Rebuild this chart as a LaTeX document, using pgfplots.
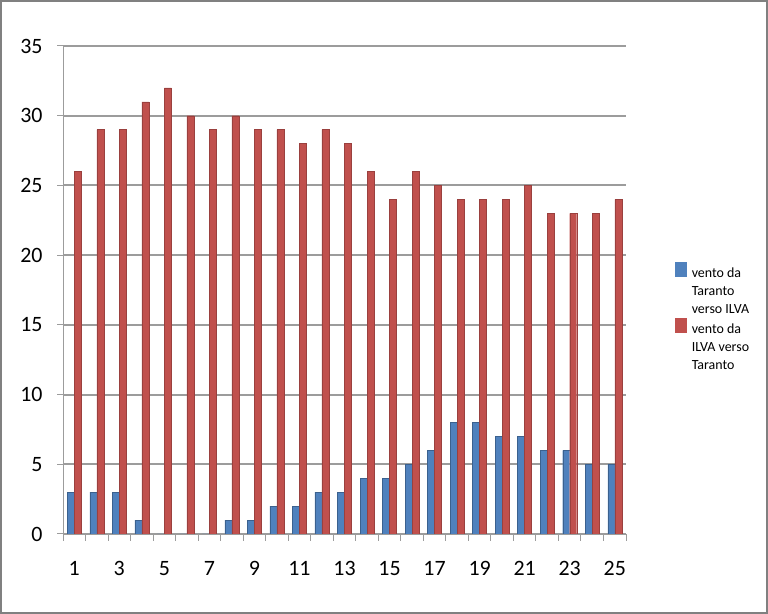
\documentclass[border=0pt]{standalone}
\usepackage{fontspec}
\setmainfont{Carlito}
\usepackage{pgfplots}
\usepackage{pgfplotstable}
\pgfplotsset{compat=1.18}
\definecolor{xlblue}{HTML}{4F81BD}
\definecolor{xlred}{HTML}{C0504D}
\definecolor{gridgray}{HTML}{9C9C9C}
\pgfplotstableread{
x blue red
1 3 26
2 3 29
3 3 29
4 1 31
5 0 32
6 0 30
7 0 29
8 1 30
9 1 29
10 2 29
11 2 28
12 3 29
13 3 28
14 4 26
15 4 24
16 5 26
17 6 25
18 8 24
19 8 24
20 7 24
21 7 25
22 6 23
23 6 23
24 5 23
25 5 24
}\windtable
\begin{document}
\begin{tikzpicture}[x=1bp,y=1bp]
\path[use as bounding box] (0,0) rectangle (768,614);
\draw[color=gray, line width=2bp] (1,1) rectangle (767,613);
\begin{axis}[
  at={(63bp,80bp)}, anchor=south west,
  scale only axis, width=563bp, height=488bp,
  xmin=0.5, xmax=25.5, ymin=0, ymax=35,
  ybar=0pt, bar width=7bp,
  ytick={0,5,...,35},
  xtick={1,3,...,25},
  minor xtick={0.5,1.5,...,25.5},
  tick align=outside,
  major tick length=6bp, minor tick length=7bp,
  major x tick style={draw=none},
  minor x tick style={gridgray, line width=1bp},
  y tick style={gridgray, line width=1bp},
  axis x line*=bottom, axis y line*=left,
  axis line style={-, gridgray, line width=1bp},
  ymajorgrids,
  major grid style={gridgray, line width=2bp},
  /pgf/number format/assume math mode=true,
  ticklabel style={font=\fontsize{22}{26}\selectfont, text=black},
  xticklabel style={yshift=-18bp},
  yticklabel style={xshift=-11bp},
  legend style={at={(1.082,0.562)}, anchor=north west, draw=none, fill=none,
    font=\fontsize{14}{17}\selectfont,
    nodes={text height=11bp, text depth=3bp, inner ysep=2bp},
    row sep=0bp},
  legend cell align=left,
]
\addplot[fill=xlblue, draw=xlblue!75!black, bar shift=-3.5bp,
  legend image code/.code={\fill[xlblue] (0bp,-3bp) rectangle (11bp,11bp);\path (14bp,0bp);}]
  table[x=x,y=blue]{\windtable};
\addlegendentry{vento da}
\addlegendimage{empty legend}\addlegendentry{Taranto}
\addlegendimage{empty legend}\addlegendentry{verso ILVA}
\addplot[fill=xlred, draw=xlred!80!black, bar shift=3.5bp,
  legend image code/.code={\fill[xlred] (0bp,-3bp) rectangle (11bp,11bp);\path (14bp,0bp);}]
  table[x=x,y=red]{\windtable};
\addlegendentry{vento da}
\addlegendimage{empty legend}\addlegendentry{ILVA verso}
\addlegendimage{empty legend}\addlegendentry{Taranto}
\end{axis}
\end{tikzpicture}
\end{document}
